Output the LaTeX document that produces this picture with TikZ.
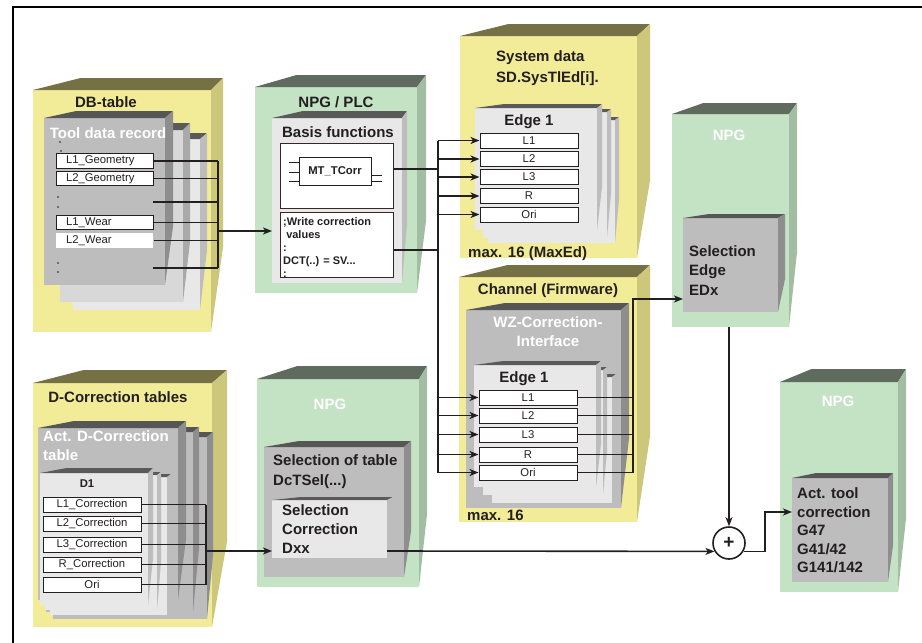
\documentclass[tikz,border=0pt]{standalone}
\usepackage{fontspec}
\setmainfont{Liberation Sans}
\usetikzlibrary{arrows.meta,calc}
\definecolor{TX}{HTML}{231F20}
\definecolor{BR}{HTML}{3A2424}
\definecolor{YF}{HTML}{F2EC98}
\definecolor{YT}{HTML}{767145}
\definecolor{YS}{HTML}{CDC77C}
\definecolor{GF}{HTML}{C4E2C4}
\definecolor{GT}{HTML}{5F6B5F}
\definecolor{GS}{HTML}{A2BDA2}
\definecolor{KF}{HTML}{BDBDBD}
\definecolor{KT}{HTML}{565656}
\definecolor{KS}{HTML}{8E8E8E}
\definecolor{MF}{HTML}{D8D8D8}
\definecolor{MT}{HTML}{5A5A5A}
\definecolor{MS}{HTML}{A9A9A9}
\definecolor{LF}{HTML}{E8E8E8}
\definecolor{LT}{HTML}{5A5A5A}
\definecolor{LS}{HTML}{BDBDBD}

\newcommand{\tdbox}[7]{%
  \pgfmathsetmacro\tdxl{#5+0.2*(#3-#1)}%
  \pgfmathsetmacro\tdyv{#4-0.35*(#4-#2)}%
  \fill[#7F] (#1,#2) rectangle (#3,#4);
  \fill[#7T] (#1,#2) -- (#3,#2) -- ({#3+#5},{#2-#6}) -- ({#1+\tdxl},{#2-#6}) -- cycle;
  \fill[#7S] (#3,#2) -- ({#3+#5},{#2-#6}) -- ({#3+#5},\tdyv) -- (#3,#4) -- cycle;
}

\tikzset{
  ttl/.style={font=\fontsize{15}{18}\selectfont\bfseries, text=TX, inner sep=0},
  wttl/.style={ttl, text=white},
  sm/.style={font=\fontsize{11.3}{13}\selectfont, text=TX, inner sep=0},
  smb/.style={font=\fontsize{11.3}{13}\selectfont\bfseries, text=TX, inner sep=0},
  dotmk/.style={fill=TX},
  rowbox/.style={draw=TX, line width=1pt, fill=white, inner sep=0, minimum height=15pt, minimum width=98pt, sm},
  dbrow/.style={rowbox, minimum width=97pt, minimum height=14.5pt, text width=77pt, inner xsep=10pt, align=left},
  conn/.style={draw=TX, line width=1.6pt},
  arr/.style={conn, -{Stealth[length=9pt,width=7pt,inset=2.5pt]}},
}

\begin{document}
\begin{tikzpicture}[x=1pt, y=-1pt, line join=miter]
\useasboundingbox (0,0) rectangle (922,643);
\fill[white] (0,0) rectangle (922,643);
\draw[line width=2.5pt] (13,643) -- (13,7) -- (922,7);

% ---------------- DB-table ----------------
\tdbox{33}{90}{211}{332}{12}{12}{Y}
\tdbox{73}{139}{200}{310}{7}{6}{L}
\tdbox{60}{130}{183}{302}{7}{7}{M}
\tdbox{44}{118}{165}{285}{8}{7}{K}
\node[ttl, anchor=base] (tdb) at (106,107) {DB-table};
\node[wttl, anchor=base] (ttdr) at (108,138) {Tool data record};
\foreach \p in {(60,142),(61,151),(58,197),(58,207),(58,263),(58,272)} \fill[dotmk] \p circle (0.9);
\node[dbrow] (dbL1G) at (104.5,161) {L1\_Geometry};
\node[dbrow] (dbL2G) at (104.5,178.5) {L2\_Geometry};
\node[dbrow] (dbL1W) at (104.5,222.5) {L1\_Wear};
\node[dbrow, draw=none] (dbL2W) at (104.5,240.5) {L2\_Wear};
\coordinate (dbd1) at (153,202);
\coordinate (dbd2) at (153,268);
\coordinate (dbx) at (218,231);

% ---------------- NPG / PLC ----------------
\tdbox{255}{87}{417}{293}{9}{12}{G}
\tdbox{272}{118}{402}{283}{5}{7}{L}
\node[ttl, anchor=base] (tnpg1) at (336,107) {NPG / PLC};
\node[ttl, anchor=base] (tbf) at (338,137) {Basis functions};
\node[draw=BR, line width=1pt, fill=white, minimum width=113pt, minimum height=65pt, inner sep=0] (fb1) at (336.5,175.5) {};
\node[draw=TX, line width=1pt, fill=white, minimum width=72pt, minimum height=28pt, smb] (mt) at (335,171) {MT\_TCorr};
\foreach \d in {9,-1,-10} \draw[TX, line width=1pt] ([yshift=\d pt]mt.west) -- ++(-10,0);
\foreach \d in {-4,-10} \draw[TX, line width=1pt] ([yshift=\d pt]mt.east) -- ++(10,0);
\node[draw=BR, line width=1pt, fill=white, minimum width=113pt, minimum height=65pt, inner sep=0] (fb2) at (336.5,244.5) {};
\node[smb, font=\fontsize{11}{13.2}\selectfont\bfseries, align=left, anchor=north west] (wtxt) at (283,217)
  {;Write correction\\\ values\\:\\DCT(..) = SV...\\:};
\coordinate (bfin) at (272,231);
\coordinate (b1) at (438,169);
\coordinate (b2) at (438,250);

% ---------------- System data ----------------
\tdbox{460}{36}{637}{258}{13}{12}{Y}
\tdbox{488}{120}{615}{243}{4}{3}{L}
\tdbox{483}{112}{607}{238}{4}{3}{L}
\tdbox{475}{108}{597}{230}{5}{4}{L}
\node[ttl, anchor=base west] (tsd1) at (496,61.5) {System data};
\node[ttl, anchor=base west] (tsd2) at (496,82.5) {SD.SysTlEd[i].};
\node[ttl, anchor=base] (tse) at (529,125.5) {Edge 1};
\node[rowbox] (sL1) at (529,140.5) {L1};
\node[rowbox] (sL2) at (529,159) {L2};
\node[rowbox] (sL3) at (529,177) {L3};
\node[rowbox] (sR) at (529,196) {R};
\node[rowbox] (sOri) at (529,214.5) {Ori};
\node[ttl, anchor=base west] (tmax1) at (468,257.5) {max. 16 (MaxEd)};

% ---------------- Channel ----------------
\tdbox{459}{277}{637}{522}{13}{12}{Y}
\tdbox{466}{310}{621}{508}{8}{7}{K}
\tdbox{492}{377}{612}{503}{4}{3}{L}
\tdbox{483}{370}{603}{495}{4}{3}{L}
\tdbox{474}{365}{596}{487}{5}{4}{L}
\node[ttl, anchor=base] (tch) at (548,294.5) {Channel (Firmware)};
\node[wttl, anchor=base] (twz1) at (548,327.5) {WZ-Correction-};
\node[wttl, anchor=base] (twz2) at (548,346.5) {Interface};
\node[ttl, anchor=base] (tce) at (524,382.5) {Edge 1};
\node[rowbox] (cL1) at (528,397.5) {L1};
\node[rowbox] (cL2) at (528,415.5) {L2};
\node[rowbox] (cL3) at (528,434.5) {L3};
\node[rowbox] (cR) at (528,454.5) {R};
\node[rowbox] (cOri) at (528,472.5) {Ori};
\node[ttl, anchor=base west] (tmax2) at (467,520.5) {max. 16};
\coordinate (cb) at (633,299);

% ---------------- NPG top right ----------------
\tdbox{672}{114}{789}{327}{8}{11}{G}
\tdbox{683}{218}{778}{312}{7}{4}{K}
\node[wttl, anchor=base] (tnpg2) at (729,140.5) {NPG};
\node[ttl, anchor=base west] (tsel1) at (689,256.5) {Selection};
\node[ttl, anchor=base west] (tsel2) at (689,275.5) {Edge};
\node[ttl, anchor=base west] (tsel3) at (689,295.5) {EDx};
\coordinate (selin) at (683,299);
\coordinate (selout) at (729,327);

% ---------------- D-Correction tables ----------------
\tdbox{33}{383}{212}{627}{15}{13}{Y}
\tdbox{53}{437}{207}{619}{6}{5}{K}
\tdbox{46}{432}{193}{612}{6}{5}{K}
\tdbox{38}{428}{178}{600}{8}{7}{K}
\tdbox{50}{477}{167}{615}{4}{3}{L}
\tdbox{45}{475}{157}{610}{4}{3}{L}
\tdbox{40}{473}{148}{605}{5}{5}{L}
\node[ttl, anchor=base] (tdc) at (118,402.5) {D-Correction tables};
\node[wttl, anchor=base west] (tad1) at (43,441.5) {Act. D-Correction};
\node[wttl, anchor=base west] (tad2) at (43,460.5) {table};
\node[smb, anchor=base] (td1) at (87,487) {D1};
\node[rowbox] (dL1) at (92,504.5) {L1\_Correction};
\node[rowbox] (dL2) at (92,523.5) {L2\_Correction};
\node[rowbox] (dL3) at (92,544.5) {L3\_Correction};
\node[rowbox] (dR) at (92,564.5) {R\_Correction};
\node[rowbox] (dOri) at (92,584.5) {Ori};
\coordinate (dbus) at (206,551);

% ---------------- NPG middle ----------------
\tdbox{257}{379}{419}{587}{8}{13}{G}
\tdbox{264}{447}{404}{577}{7}{6}{K}
\tdbox{272}{500}{387}{558}{6}{3}{L}
\node[wttl, anchor=base] (tnpg3) at (330,409.5) {NPG};
\node[ttl, anchor=base west] (tst1) at (273,465.5) {Selection of table};
\node[ttl, anchor=base west] (tst2) at (273,485.5) {DcTSel(...)};
\node[ttl, anchor=base west] (tsc1) at (282,515.5) {Selection};
\node[ttl, anchor=base west] (tsc2) at (282,534.5) {Correction};
\node[ttl, anchor=base west] (tsc3) at (282,553.5) {Dxx};
\coordinate (dxxin) at (272,551);
\coordinate (dxxout) at (387,551);

% ---------------- NPG bottom right ----------------
\tdbox{780}{382}{898}{592}{8}{13}{G}
\tdbox{792}{478}{888}{582}{5}{5}{K}
\node[wttl, anchor=base] (tnpg4) at (838,406.5) {NPG};
\node[ttl, anchor=base west] (tat1) at (797,498.5) {Act. tool};
\node[ttl, anchor=base west] (tat2) at (797,517.5) {correction};
\node[ttl, anchor=base west] (tat3) at (797,535.5) {G47};
\node[ttl, anchor=base west] (tat4) at (797,554.5) {G41/42};
\node[ttl, anchor=base west] (tat5) at (797,572.5) {G141/142};
\coordinate (elb) at (765,512);
\coordinate (actin) at (792,512);

% ---------------- plus ----------------
\node[circle, draw=TX, line width=1.6pt, fill=white, minimum size=32pt, inner sep=0,
      font=\fontsize{19}{19}\selectfont\bfseries, text=TX] (plus) at (729,543) {+};

% ---------------- connectors ----------------
\foreach \n in {dbL1G,dbL2G,dbd1,dbL1W,dbL2W,dbd2} \draw[conn] (\n.east) -- (\n.east -| dbx);
\draw[conn] (dbL1G.east -| dbx) -- (dbd2 -| dbx);
\draw[arr] (dbx) -- (bfin);

\draw[conn] (fb1.east |- b1) -- (b1);
\draw[conn] (fb2.east |- b2) -- (b2);
\draw[conn] (sL1.west -| b1) -- (cOri.west -| b1);
\foreach \r in {sL1,sL2,sL3,sR,sOri,cL1,cL2,cL3,cR,cOri} \draw[arr] (\r.west -| b1) -- (\r.west);

\foreach \r in {cL1,cL2,cL3,cR,cOri} \draw[conn] (\r.east) -- (\r.east -| cb);
\draw[arr] (cOri.east -| cb) -- (cb) -- (selin);

\foreach \r in {dL1,dL2,dL3,dR,dOri} \draw[conn] (\r.east) -- (\r.east -| dbus);
\draw[conn] (dL1.east -| dbus) -- (dOri.east -| dbus);
\draw[arr] (dbus) -- (dxxin);

\draw[arr] (dxxout) -- (plus.210);
\draw[arr] (selout) -- (plus.north);
\draw[arr] (plus.-30) -| (elb) -- (actin);
\end{tikzpicture}
\end{document}
